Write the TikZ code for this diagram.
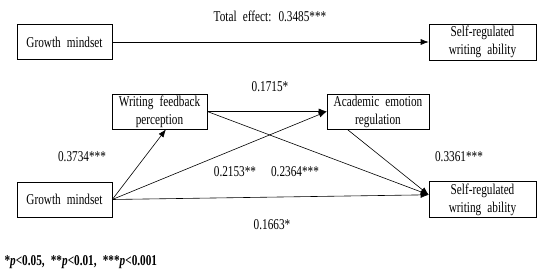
\documentclass[tikz,border=0pt]{standalone}
\usepackage{fontspec}
\setmainfont{Liberation Serif}[FakeStretch=0.75, WordSpace=2.2]
\usetikzlibrary{arrows.meta,positioning}

\begin{document}
\begin{tikzpicture}[x=1pt, y=-1pt,
  box/.style={draw, line width=0.6pt, minimum height=35pt, inner sep=1pt,
              align=center, font=\fontsize{15}{18}\selectfont},
  link/.style={draw, line width=0.6pt, -{Latex[length=8pt,width=6pt]}},
  coef/.style={font=\fontsize{15}{17}\selectfont}
]
  \useasboundingbox (0,0) rectangle (550,270);

  % total effect model
  \node[box, minimum width=95pt]  (gmTop) at (64.5,42)  {Growth mindset};
  \node[box, minimum width=107pt, minimum height=36pt] (srTop) at (482.5,42) {Self-regulated\\writing ability};
  \draw[link] (gmTop.east) -- (srTop.west);
  \node[coef] (total) at (270,16) {Total effect: 0.3485***};

  % mediation model
  \node[box, minimum width=95pt]  (wfp) at (159.5,111.5) {Writing feedback\\perception};
  \node[box, minimum width=102pt] (aer) at (378,111.5)   {Academic emotion\\regulation};
  \node[box, minimum width=95pt]  (gm)  at (64.5,199.5)  {Growth mindset};
  \node[box, minimum width=107pt, minimum height=36pt] (sr) at (482.5,199.5) {Self-regulated\\writing ability};

  \draw[link] (gm.east)  -- (wfp.-70);
  \draw[link] (gm.east)  -- (aer.west);
  \draw[link] (gm.east)  -- (sr.175);
  \draw[link] (wfp.east) -- (aer.west);
  \draw[link] (wfp.east) -- (sr.175);
  \draw[link] (aer.-150) -- (sr.175);

  \node[coef] (cWA) at (270,87)  {0.1715*};
  \node[coef] (cGW) at (82,157)  {0.3734***};
  \node[coef] (cGA) at (235,172) {0.2153**};
  \node[coef] (cWS) at (295,172) {0.2364***};
  \node[coef] (cAS) at (459,157) {0.3361***};
  \node[coef] (cGS) at (272,225) {0.1663*};

  \node[coef, anchor=west, font=\fontsize{15}{17}\selectfont\bfseries] (note) at (1,262)
    {*\textit{p}<0.05, **\textit{p}<0.01, ***\textit{p}<0.001};
\end{tikzpicture}
\end{document}
